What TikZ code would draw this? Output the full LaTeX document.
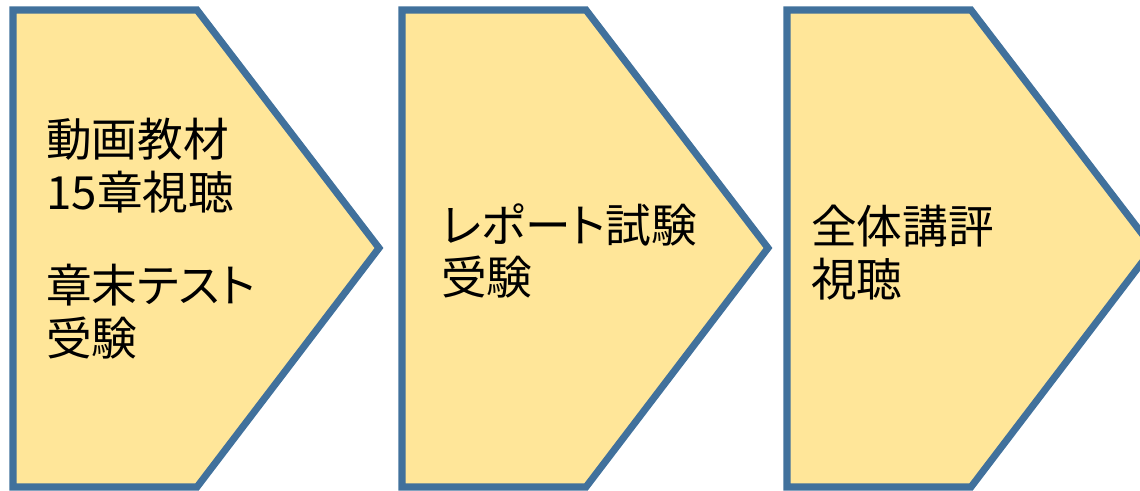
\documentclass[tikz,border=0pt]{standalone}
\usepackage{fontspec}
\newfontfamily\jpfont[RawFeature=+palt]{Noto Sans CJK JP}
\usepackage{xcolor}
\definecolor{chevfill}{HTML}{FFE699}
\definecolor{chevline}{HTML}{41719C}

\begin{document}
\begin{tikzpicture}[x=0.025cm, y=-0.025cm,
  chev/.style={draw=chevline, fill=chevfill, line width=5pt, line join=miter},
  lbl/.style={anchor=north west, inner sep=0pt, align=left, font=\jpfont\fontsize{32.5}{37.5}\selectfont}]
\clip (0,0) rectangle (1140,491);
\foreach \x in {13,402,787}
  \draw[chev] (\x,10) -- ++(184,0) -- ++(182,238) -- ++(-182,239) -- ++(-184,0) -- cycle;
\node[lbl] (watch) at (46,118) {動画教材\\15章視聴\\[29pt]章末テスト\\受験};
\node[lbl] (report) at (441,203) {レポート試験\\受験};
\node[lbl] (review) at (811,205) {全体講評\\視聴};
\end{tikzpicture}
\end{document}
